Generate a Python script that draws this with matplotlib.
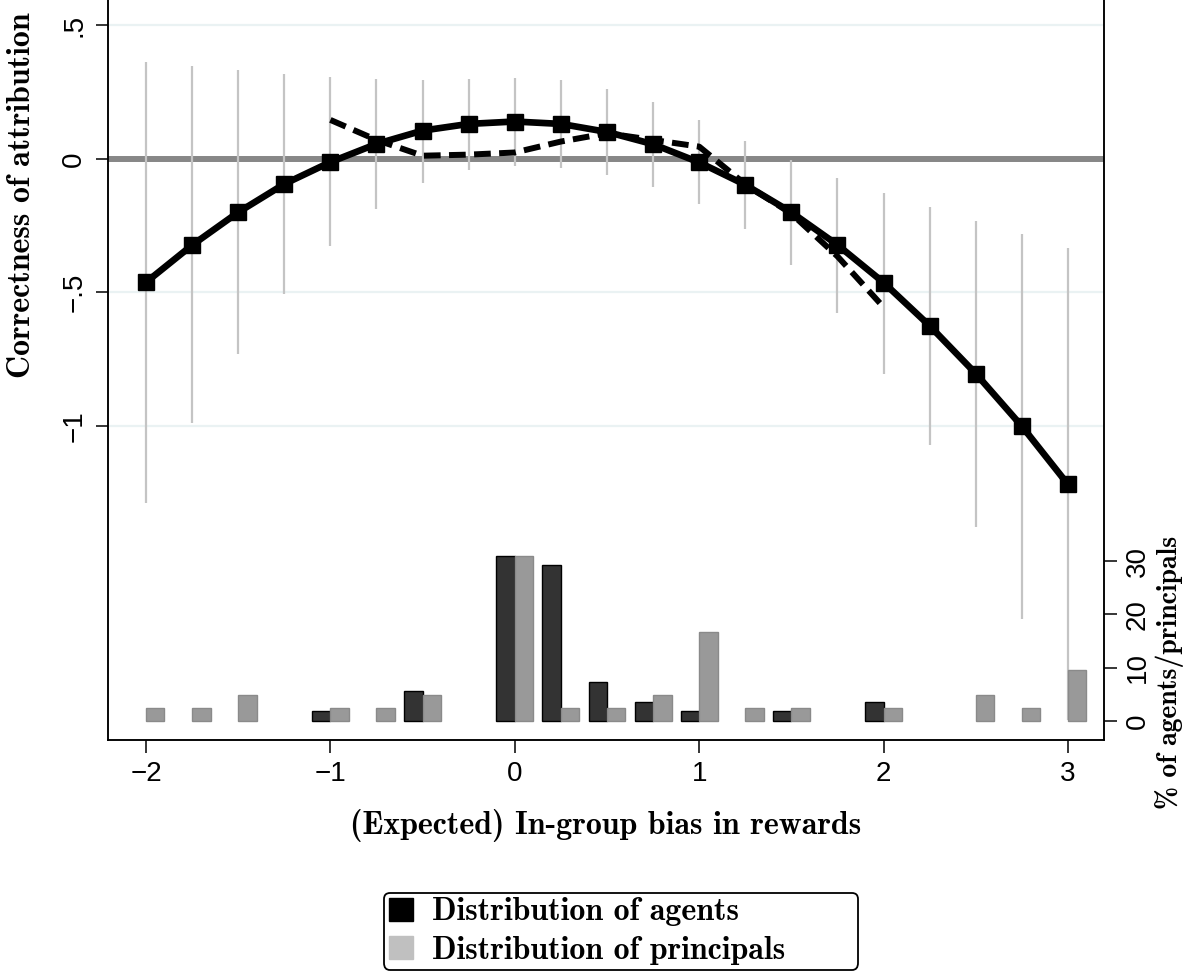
import matplotlib
matplotlib.use("Agg")
import matplotlib.pyplot as plt
from matplotlib.patches import Patch

# Valores
x_vals = [-2, -1.75, -1.5, -1.25, -1, -0.75, -0.5, -0.25, 0, 0.25, 0.5,
          0.75, 1, 1.25, 1.5, 1.75, 2, 2.25, 2.5, 2.75, 3]
y_fit = [-0.462, -0.323, -0.200, -0.094, -0.012, 0.056, 0.106, 0.131, 0.140, 0.131, 0.101,
         0.055, -0.013, -0.097, -0.200, -0.322, -0.463, -0.625, -0.804, -1.001, -1.219]
ci_high = [0.364, 0.348, 0.333, 0.318, 0.305, 0.298, 0.296, 0.301, 0.303, 0.295, 0.262,
           0.212, 0.146, 0.067, -0.004, -0.070, -0.129, -0.180, -0.232, -0.282, -0.332]
ci_low = [-1.29, -0.99, -0.731, -0.507, -0.325, -0.188, -0.091, -0.041, -0.025, -0.035, -0.062,
          -0.106, -0.169, -0.263, -0.397, -0.578, -0.804, -1.072, -1.379, -1.723, -2.10]

x_dash = [-1, -0.75, -0.5, -0.25, 0, 0.25, 0.5, 0.75, 1, 1.25, 1.5, 1.75, 2]
y_dash = [0.146, 0.071, 0.012, 0.016, 0.024, 0.065, 0.096, 0.071, 0.046, -0.095, -0.205, -0.365, -0.555]

# % de agentes / principais em cada valor de x
agents = [0, 0, 0, 0, 1.8, 0, 5.6, 0, 31.0, 29.2, 7.3,
          3.6, 1.8, 0, 1.8, 0, 3.6, 0, 0, 0, 0]
principals = [2.4, 2.4, 4.8, 0, 2.4, 2.4, 4.8, 0, 31.0, 2.4, 2.4,
              4.8, 16.7, 2.4, 2.4, 0, 2.4, 0, 4.8, 2.4, 9.5]

serif_bold = {"family": "cmb10", "size": 23}
tick_font = ["Liberation Sans Narrow", "Liberation Sans", "DejaVu Sans"]

fig = plt.figure(figsize=(11.84, 9.74), dpi=100)
ax = fig.add_axes([0.0912, 0.2402, 0.8412, 0.7598])
ax2 = ax.twinx()

# linhas de grade e linha do zero
for g in [0.5, -0.5, -1]:
    ax.axhline(g, color="#eaf2f3", lw=1.6, zorder=0)
ax.axhline(0, color="#878787", lw=4.3, zorder=1)

# intervalos de confiança
ax.vlines(x_vals, ci_low, ci_high, color="#c4c4c4", lw=1.6, zorder=2)

# curva ajustada e curva tracejada
ax.plot(x_dash, y_dash, color="black", lw=4.3, dashes=(2.8, 1.4), zorder=3)
ax.plot(x_vals, y_fit, color="black", lw=4.8, marker="s", markersize=11, zorder=4)

# barras de distribuição no eixo direito (agentes à esquerda, principais à direita)
xa = [x - 0.1 for x, v in zip(x_vals, agents) if v > 0]
ha = [v for v in agents if v > 0]
xp = [x for x, v in zip(x_vals, principals) if v > 0]
hp = [v for v in principals if v > 0]
ax2.bar(xa, ha, width=0.1, align="edge", color="#333333", edgecolor="black", lw=1.0)
ax2.bar(xp, hp, width=0.1, align="edge", color="#999999", edgecolor="#8a8a8a", lw=1.0)

ax.set_xlim(-2.206, 3.195)
ax.set_ylim(-2.176, 0.595)
ax2.set_ylim(-3.56, 135.3)

ax.set_xticks([-2, -1, 0, 1, 2, 3])
ax.set_xticklabels(["\u22122", "\u22121", "0", "1", "2", "3"], family=tick_font, fontsize=20)
ax.set_yticks([0.5, 0, -0.5, -1])
ax.set_yticklabels([".5", "0", "\u2212.5", "\u22121"], family=tick_font, fontsize=20,
                   rotation=90, va="center")
ax2.set_yticks([0, 10, 20, 30])
ax2.set_yticklabels(["0", "10", "20", "30"], family=tick_font, fontsize=20,
                    rotation=90, va="center")

for a in (ax, ax2):
    a.tick_params(axis="both", length=9, width=1.1, pad=6)
    a.spines["top"].set_visible(False)
    for s in ("left", "right", "bottom"):
        a.spines[s].set_linewidth(1.1)

ax.set_xlabel("(Expected) In-group bias in rewards", fontdict=serif_bold)
ax.xaxis.set_label_coords(0.50, -0.093)
ax.set_ylabel("Correctness of attribution", fontdict=serif_bold)
ax.yaxis.set_label_coords(-0.072, 0.736)
ax2.set_ylabel("% of agents/principals", fontdict={"family": "cmb10", "size": 20})
ax2.yaxis.set_label_coords(1.051, 0.092)

handles = [Patch(facecolor="black", edgecolor="black"),
           Patch(facecolor="#c0c0c0", edgecolor="#c0c0c0")]
leg = fig.legend(handles, ["Distribution of agents", "Distribution of principals"],
                 loc="center", bbox_to_anchor=(384 / 1184, 0.044 - 0.04, 474 / 1184, 0.08),
                 mode="expand", prop=serif_bold,
                 handlelength=0.75, handleheight=0.75, handletextpad=0.6,
                 labelspacing=0.3, borderpad=0.15, borderaxespad=0,
                 fancybox=True, framealpha=1)
leg.get_frame().set_edgecolor("black")
leg.get_frame().set_linewidth(1.3)

fig.savefig("out.png", dpi=100)
